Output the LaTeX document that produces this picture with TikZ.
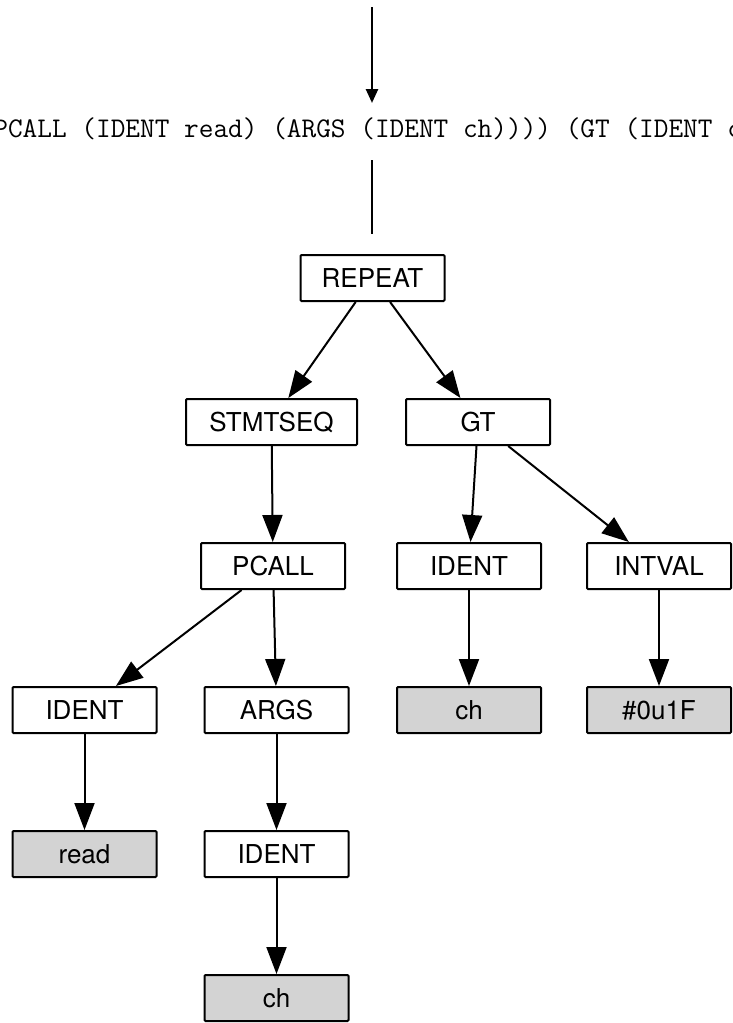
\documentclass[tikz,border=0pt]{standalone}
\usepackage{fontspec}
\newfontfamily\boxfont{TeX Gyre Heros}
\usetikzlibrary{arrows.meta}
\definecolor{leafgray}{HTML}{D3D3D3}
\begin{document}
\begin{tikzpicture}[x=1pt,y=-1pt,
  treenode/.style={draw,line width=2pt,rounded corners=1pt,
    minimum height=46pt,minimum width=144pt,inner sep=0pt,
    font=\boxfont\fontsize{26}{30}\selectfont,fill=white},
  leafnode/.style={treenode,fill=leafgray},
  edgearrow/.style={line width=2pt,-{Triangle[length=27pt,width=20pt]}},
  inarrow/.style={line width=2.5pt,-{Triangle[length=14pt,width=12pt]}},
  exprtext/.style={font=\ttfamily\fontsize{28.5}{32}\selectfont,inner sep=0pt,anchor=base west},
]
\useasboundingbox (0,0) rectangle (732,1023);

% incoming expression, printed across the top
\coordinate (inTop) at (372,7);
\coordinate (inEnd) at (372,103);
\coordinate (outTop) at (372,160);
\coordinate (outEnd) at (372,234);
\begin{scope}
  \clip (0,0) rectangle (732,1023);
  \node[exprtext] (expr) at (-271,137)
    {(REPEAT (STMTSEQ (PCALL (IDENT read) (ARGS (IDENT ch)))) (GT (IDENT ch) (INTVAL \#0u1F)))};
\end{scope}
\draw[inarrow] (inTop) -- (inEnd);
\draw[line width=2.5pt] (outTop) -- (outEnd);

% syntax tree
\node[treenode] (repeat) at (372.5,278) {REPEAT};
\node[treenode,minimum width=171pt] (stmtseq) at (271.5,422) {STMTSEQ};
\node[treenode] (gt) at (478,422) {GT};
\node[treenode] (pcall) at (273,566) {PCALL};
\node[treenode] (identB) at (469,566) {IDENT};
\node[treenode] (intval) at (659,566) {INTVAL};
\node[treenode] (identA) at (84.5,710) {IDENT};
\node[treenode] (args) at (276.5,710) {ARGS};
\node[leafnode] (chB) at (469,710) {ch};
\node[leafnode] (hexv) at (659,710) {\#0u1F};
\node[leafnode] (read) at (84.5,854) {read};
\node[treenode] (identC) at (276.5,854) {IDENT};
\node[leafnode] (chA) at (276.5,998) {ch};

\draw[edgearrow] (repeat) -- (stmtseq);
\draw[edgearrow] (repeat) -- (gt);
\draw[edgearrow] (stmtseq) -- (pcall);
\draw[edgearrow] (gt) -- (identB);
\draw[edgearrow] (gt) -- (intval);
\draw[edgearrow] (pcall) -- (identA);
\draw[edgearrow] (pcall) -- (args);
\draw[edgearrow] (identA) -- (read);
\draw[edgearrow] (args) -- (identC);
\draw[edgearrow] (identC) -- (chA);
\draw[edgearrow] (identB) -- (chB);
\draw[edgearrow] (intval) -- (hexv);
\end{tikzpicture}
\end{document}
